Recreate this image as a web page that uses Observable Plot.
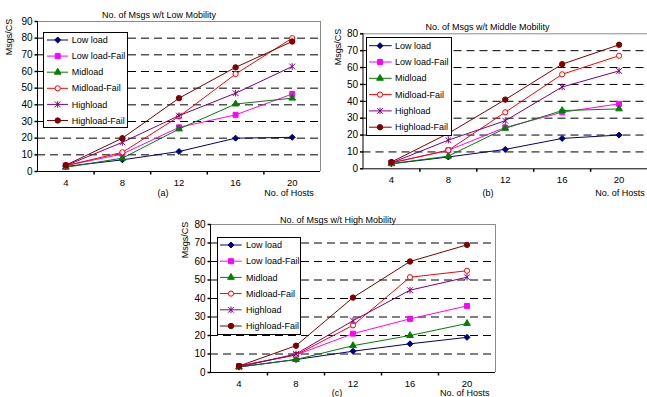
<!DOCTYPE html>
<html><head><meta charset="utf-8">
<script src="https://cdn.jsdelivr.net/npm/d3@7"></script>
<script src="https://cdn.jsdelivr.net/npm/@observablehq/plot@0.6"></script>
<style>
body{margin:0;background:#fff;}
#root{position:relative;width:647px;height:397px;overflow:hidden;font-family:"Liberation Sans",Arial,sans-serif;background:#fff;}
.abs{position:absolute;}
.lbl{position:absolute;transform:translate(-50%,-50%);white-space:nowrap;font-size:9px;line-height:1;color:#000;}
.rot{transform:translate(-50%,-50%) rotate(-90deg);}
</style></head><body><div id="root"></div>
<script>
// ---- data ----
const hosts = [4, 8, 12, 16, 20];
const seriesNames = ["Low load", "Low load-Fail", "Midload", "Midload-Fail", "Highload", "Highload-Fail"];

// (a) Low Mobility
const lowMobLowLoad      = [3, 7, 12, 20, 20.5];
const lowMobLowLoadFail  = [3.5, 10.5, 26.5, 34, 46.5];
const lowMobMidload      = [2.5, 8, 25.5, 40.5, 44];
const lowMobMidloadFail  = [3.5, 11.5, 33, 58.5, 80];
const lowMobHighload     = [3.5, 17.5, 33.5, 47, 63];
const lowMobHighloadFail = [3.8, 20, 44, 62.5, 78];

// (b) Middle Mobility
const midMobLowLoad      = [3, 7, 11.5, 18, 20];
const midMobLowLoadFail  = [3.5, 11, 24.5, 33.5, 38.5];
const midMobMidload      = [3, 7.5, 24, 34.5, 35.5];
const midMobMidloadFail  = [3.5, 11, 33.5, 56, 67];
const midMobHighload     = [3.5, 17, 28.5, 48.5, 58];
const midMobHighloadFail = [4, 21, 41, 62, 73.5];

// (c) High Mobility
const highMobLowLoad      = [3, 7, 11.5, 15.5, 19];
const highMobLowLoadFail  = [3.5, 9.5, 21, 29, 36];
const highMobMidload      = [3, 7, 14.5, 20, 26.5];
const highMobMidloadFail  = [3.5, 9.5, 25.5, 51.5, 55];
const highMobHighload     = [3, 10, 28, 44.5, 51.5];
const highMobHighloadFail = [3.5, 14.5, 40.5, 60, 69];

const yTicksLow  = [0, 10, 20, 30, 40, 50, 60, 70, 80, 90];
const yTicksMid  = [0, 10, 20, 30, 40, 50, 60, 70, 80];
const yTicksHigh = [0, 10, 20, 30, 40, 50, 60, 70, 80];
const xCategoryBounds = [6, 10, 14, 18];

const panelTitles = ["No. of Msgs w/t Low Mobility", "No. of Msgs w/t Middle Mobility", "No. of Msgs w/t High Mobility"];
const panelTags = ["(a)", "(b)", "(c)"];
const xAxisTitle = "No. of Hosts";
const yAxisTitle = "Msgs/CS";

// ---- styles ----
const colors = ["#000080", "#ff00ff", "#008000", "#ff0000", "#800080", "#800000"];
const asteriskX = {draw(ctx, size) {
  const a = Math.sqrt(size) * 0.6;
  ctx.moveTo(-a, -a); ctx.lineTo(a, a);
  ctx.moveTo(-a, a); ctx.lineTo(a, -a);
  ctx.moveTo(0, -a * 1.15); ctx.lineTo(0, a * 1.15);
}};
const symbols = [d3.symbolDiamond2, d3.symbolSquare, d3.symbolTriangle, d3.symbolCircle, asteriskX, d3.symbolCircle];
const radii = [2.7, 2.8, 2.5, 2.6, 2.7, 2.7];
const fills = [colors[0], colors[1], colors[2], "#fff", "none", colors[5]];
const vTick = {draw(ctx) { ctx.moveTo(0, 0); ctx.lineTo(0, 3); }};
const hTick = {draw(ctx) { ctx.moveTo(0, 0); ctx.lineTo(-3, 0); }};

const root = document.getElementById("root");

function label(text, x, y, cls = "") {
  const d = document.createElement("div");
  d.className = "lbl " + cls;
  d.style.left = x + "px"; d.style.top = y + "px";
  d.textContent = text;
  root.appendChild(d);
}

function panel(cfg) {
  const {left, top, width, height, ml, mr, mt, mb, ticks, series, gridTop, rightFrame} = cfg;
  const ymax = ticks[ticks.length - 1];
  const grid = ticks.filter(t => t > 0 && (gridTop || t < ymax));
  const marks = [
    Plot.ruleY(grid, {y: d => d, stroke: "#000", strokeWidth: 1, strokeDasharray: "8,5"}),
    Plot.ruleY([ymax], {y: d => d, stroke: "#8c8c8c"}),
  ];
  if (rightFrame) marks.push(Plot.ruleX([22], {x: d => d, stroke: "#8c8c8c"}));
  marks.push(
    Plot.ruleX([2], {x: d => d, stroke: "#000"}),
    Plot.ruleY([0], {y: d => d, stroke: "#000"}),
    Plot.dot(ticks, {x: () => 2, y: d => d, symbol: hTick, stroke: "#000", fill: "none"}),
    Plot.dot(xCategoryBounds, {x: d => d, y: () => 0, symbol: vTick, stroke: "#000", fill: "none"}),
    Plot.text(ticks, {x: () => 2, y: d => d, text: d => String(d), textAnchor: "end", dx: -5, fontSize: 10}),
    Plot.text(hosts, {x: d => d, y: () => 0, text: d => String(d), dy: 11.5, fontSize: 9.5})
  );
  series.forEach((vals, i) => {
    const rows = hosts.map((h, j) => ({h, v: vals[j]}));
    marks.push(Plot.line(rows, {x: "h", y: "v", stroke: colors[i], strokeWidth: 1}));
    marks.push(Plot.dot(rows, {x: "h", y: "v", symbol: symbols[i], r: radii[i],
      fill: fills[i], stroke: colors[i], strokeWidth: 1}));
  });
  const svg = Plot.plot({
    width, height, marginLeft: ml, marginRight: mr, marginTop: mt, marginBottom: mb,
    x: {domain: [2, 22], axis: null},
    y: {domain: [0, ymax], axis: null},
    style: {background: "transparent", overflow: "visible", fontFamily: "'Liberation Sans', Arial, sans-serif", maxWidth: "none"},
    marks
  });
  const wrap = document.createElement("div");
  wrap.className = "abs";
  wrap.style.left = left + "px"; wrap.style.top = top + "px";
  wrap.style.width = width + "px"; wrap.style.height = height + "px";
  wrap.appendChild(svg);
  root.appendChild(wrap);
}

function legend(left, top, w, h, firstY, step, lineX0, lineX1, markX, textX) {
  const svg = d3.create("svg").attr("width", w + 1).attr("height", h + 1)
    .style("position", "absolute").style("left", left + "px").style("top", top + "px")
    .style("overflow", "visible");
  svg.append("rect").attr("x", 0.5).attr("y", 0.5).attr("width", w).attr("height", h)
    .attr("fill", "#fff").attr("stroke", "#000");
  seriesNames.forEach((name, i) => {
    const y = firstY + i * step;
    svg.append("line").attr("x1", lineX0).attr("x2", lineX1).attr("y1", y).attr("y2", y)
      .attr("stroke", colors[i]).attr("stroke-width", 1);
    svg.append("path").attr("d", d3.symbol(symbols[i], Math.PI * radii[i] * radii[i])())
      .attr("transform", `translate(${markX},${y})`)
      .attr("fill", fills[i]).attr("stroke", colors[i]).attr("stroke-width", 1);
    svg.append("text").attr("x", textX).attr("y", y).attr("dy", "0.35em")
      .attr("font-size", 9).attr("font-family", "'Liberation Sans', Arial, sans-serif")
      .text(name);
  });
  root.appendChild(svg.node());
}

// (a)
panel({left: 0, top: 0, width: 330, height: 200, ml: 37, mr: 10, mt: 21, mb: 29,
  ticks: yTicksLow, gridTop: false, rightFrame: true,
  series: [lowMobLowLoad, lowMobLowLoadFail, lowMobMidload, lowMobMidloadFail, lowMobHighload, lowMobHighloadFail]});
// (b)
panel({left: 330, top: 0, width: 317, height: 200, ml: 32.5, mr: 0, mt: 33.3, mb: 31.7,
  ticks: yTicksMid, gridTop: false, rightFrame: false,
  series: [midMobLowLoad, midMobLowLoadFail, midMobMidload, midMobMidloadFail, midMobHighload, midMobHighloadFail]});
// (c)
panel({left: 160, top: 200, width: 340, height: 197, ml: 50, mr: 5, mt: 24, mb: 25,
  ticks: yTicksHigh, gridTop: true, rightFrame: true,
  series: [highMobLowLoad, highMobLowLoadFail, highMobMidload, highMobMidloadFail, highMobHighload, highMobHighloadFail]});

legend(43, 32, 84, 95, 8, 16.1, 4, 25, 14.7, 28.7);
legend(366, 37, 85, 98, 8.7, 16.3, 3, 25.7, 14, 29);
legend(217, 237, 83, 97, 8, 16.2, 3, 24.7, 14, 29);

label(panelTitles[0], 159, 15);
label(panelTitles[1], 487.5, 26.7);
label(panelTitles[2], 338, 219.5);
label(yAxisTitle, 8.5, 37, "rot");
label(yAxisTitle, 338, 46.5, "rot");
label(yAxisTitle, 185, 240, "rot");
label(panelTags[0], 163, 193);
label(panelTags[1], 488, 193);
label(panelTags[2], 337, 393);
label(xAxisTitle, 289, 193);
label(xAxisTitle, 620, 193);
label(xAxisTitle, 464.7, 393);
</script></body></html>
